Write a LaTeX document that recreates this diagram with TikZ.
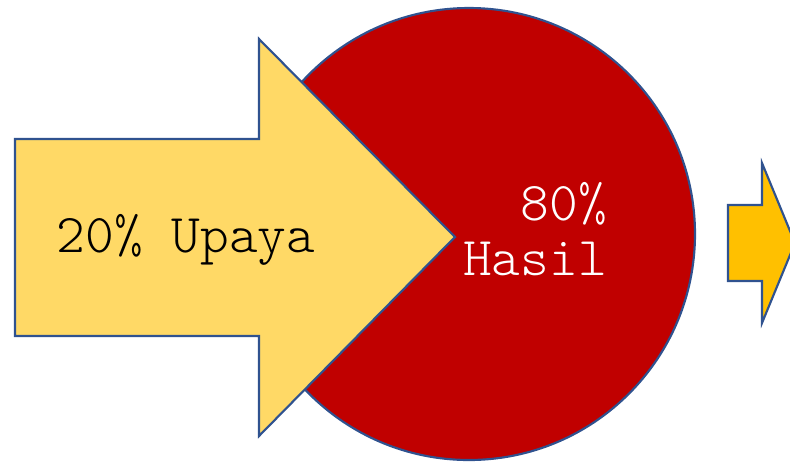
\documentclass[tikz,border=0pt]{standalone}
\usepackage{fontspec}
\newfontfamily\lightmono{Latin Modern Mono Light}
\definecolor{pieRed}{HTML}{C00000}
\definecolor{arrowGold}{HTML}{FFD966}
\definecolor{arrowOrange}{HTML}{FFC000}
\definecolor{edgeBlue}{HTML}{2F528F}
\tikzset{
  outline/.style={draw=edgeBlue, line width=1.6pt, line join=miter},
  bigtext/.style={font=\lightmono\fontsize{41}{46}\selectfont, inner sep=0pt}
}

\begin{document}
\begin{tikzpicture}[x=0.75pt, y=-0.75pt]
  \useasboundingbox (0,0) rectangle (790,462);

  % Result circle
  \node[circle, outline, fill=pieRed, minimum size=339pt, inner sep=0pt] (hasil) at (469,234) {};

  % Big arrow (effort)
  \draw[outline, fill=arrowGold] (15,139) -- (259,139) -- (259,39) -- (455,237)
    -- (259,436) -- (259,336) -- (15,336) -- cycle;

  % Small arrow, cut off by the right edge
  \draw[outline, fill=arrowOrange] (728,205) -- (762,205) -- (762,163) -- (795,243)
    -- (762,323) -- (762,281) -- (728,281) -- cycle;

  % Labels
  \node[bigtext, anchor=base] (upaya) at (186,252) {20\% Upaya};
  \node[bigtext, text=white, anchor=base east] (persen) at (607,220) {80\%};
  \node[bigtext, text=white, anchor=base east] (hasilteks) at (607,275) {Hasil};
\end{tikzpicture}
\end{document}
